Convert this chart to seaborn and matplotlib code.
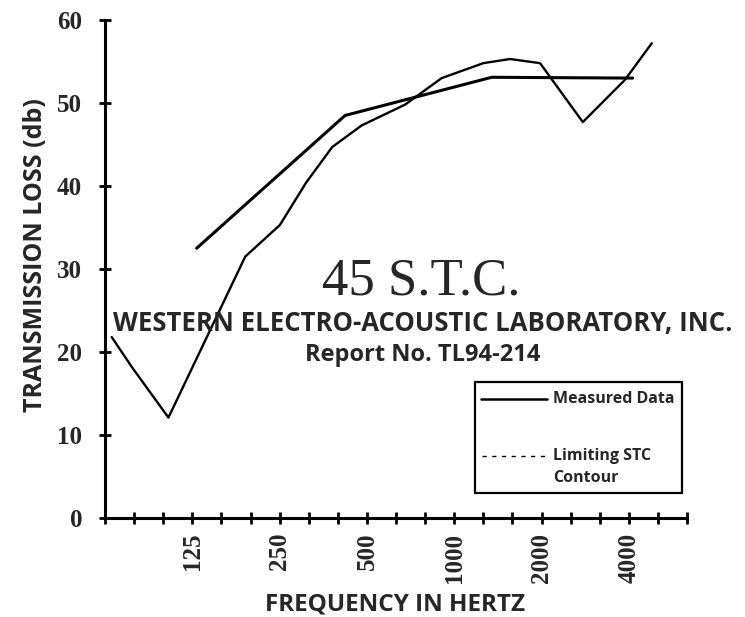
import matplotlib
matplotlib.use("Agg")
import matplotlib.pyplot as plt
from matplotlib.lines import Line2D
from matplotlib.patches import Rectangle
import seaborn as sns
import pandas as pd

# band positions are in 1/3-octave steps counted from the y axis (0 = 63 Hz)
measured_pos = [0.23, 0.92, 2.18, 4.82, 6.01, 6.91, 7.81, 8.82, 10.31, 11.57,
                13.0, 13.92, 14.95, 16.42, 17.87, 18.79]
measured_tl = [21.8, 18.2, 12.1, 31.5, 35.3, 40.4, 44.7, 47.3, 49.8, 53.0,
               54.8, 55.3, 54.8, 47.7, 52.8, 57.2]

contour_pos = [3.15, 8.25, 13.29, 18.13]
contour_tl = [32.5, 48.5, 53.1, 53.0]

band_ticks = list(range(21))
freq_labels = {3: "125", 6: "250", 9: "500", 12: "1000", 15: "2000", 18: "4000"}
y_ticks = [0, 10, 20, 30, 40, 50, 60]

SANS = ["Open Sans", "DejaVu Sans"]
SERIF = ["Liberation Serif", "DejaVu Serif"]

sns.set_style("white")
plt.rcParams["font.family"] = SANS

measured = pd.DataFrame({"band": measured_pos, "tl": measured_tl})
contour = pd.DataFrame({"band": contour_pos, "tl": contour_tl})

fig = plt.figure(figsize=(7.45, 6.17), dpi=100)
ax = fig.add_axes([105 / 745, 99 / 617, 582 / 745, 498 / 617])

sns.lineplot(data=contour, x="band", y="tl", sort=False, color="black",
             lw=2.2, ax=ax)
sns.lineplot(data=measured, x="band", y="tl", sort=False, color="black",
             lw=1.7, ax=ax)

ax.set_xlim(0, 20)
ax.set_ylim(0, 60)
for side in ["top", "right"]:
    ax.spines[side].set_visible(False)
for side in ["left", "bottom"]:
    ax.spines[side].set_linewidth(2.2)
    ax.spines[side].set_color("black")
ax.spines["bottom"].set_zorder(5)

ax.set_xticks(band_ticks)
ax.set_xticklabels([freq_labels.get(b, "") for b in band_ticks], rotation=90,
                   fontfamily=SERIF, fontweight="bold", fontsize=18)
ax.set_yticks(y_ticks)
ax.set_yticklabels([str(v) for v in y_ticks], fontfamily=SERIF,
                   fontweight="bold", fontsize=18)
ax.tick_params(axis="both", which="major", direction="inout", length=9,
               width=2, color="black", bottom=True, left=True)
ax.tick_params(axis="x", pad=6)
ax.tick_params(axis="y", pad=12)
ax.set_xlabel("")
ax.set_ylabel("")

fig.text(36 / 745, 1 - 255 / 617, "TRANSMISSION LOSS (db)", rotation=90,
         ha="center", va="center", fontsize=18, fontweight="bold")
fig.text(395 / 745, 1 - 604 / 617, "FREQUENCY IN HERTZ", ha="center",
         va="center", fontsize=17.5, fontweight="bold")

# titles inside the plot
fig.text(421 / 745, 1 - 281 / 617, "45 S.T.C.", ha="center", va="center",
         fontfamily=SERIF, fontsize=38)
fig.text(423 / 745, 1 - 323 / 617, "WESTERN ELECTRO-ACOUSTIC LABORATORY, INC.",
         ha="center", va="center", fontsize=18.5, fontweight="bold")
fig.text(423 / 745, 1 - 355 / 617, "Report No. TL94-214", ha="center",
         va="center", fontsize=17, fontweight="bold")

# legend box drawn by hand to keep the two-line label layout
fig.patches.append(Rectangle((475 / 745, 1 - 493 / 617), 207 / 745, 111 / 617,
                             transform=fig.transFigure, fill=True,
                             facecolor="white", edgecolor="black", lw=1.6))
fig.lines.append(Line2D([481 / 745, 547 / 745], [1 - 399 / 617, 1 - 399 / 617],
                        transform=fig.transFigure, color="black", lw=1.8))
fig.lines.append(Line2D([482 / 745, 547 / 745], [1 - 456 / 617, 1 - 456 / 617],
                        transform=fig.transFigure, color="black", lw=1.0,
                        ls=(0, (3, 4))))
fig.text(553 / 745, 1 - 399 / 617, "Measured Data", ha="left", va="center",
         fontsize=11.5, fontweight="bold")
fig.text(553 / 745, 1 - 456 / 617, "Limiting STC", ha="left", va="center",
         fontsize=11.5, fontweight="bold")
fig.text(553 / 745, 1 - 478 / 617, "Contour", ha="left", va="center",
         fontsize=11.5, fontweight="bold")

fig.savefig("out.png", dpi=100)
